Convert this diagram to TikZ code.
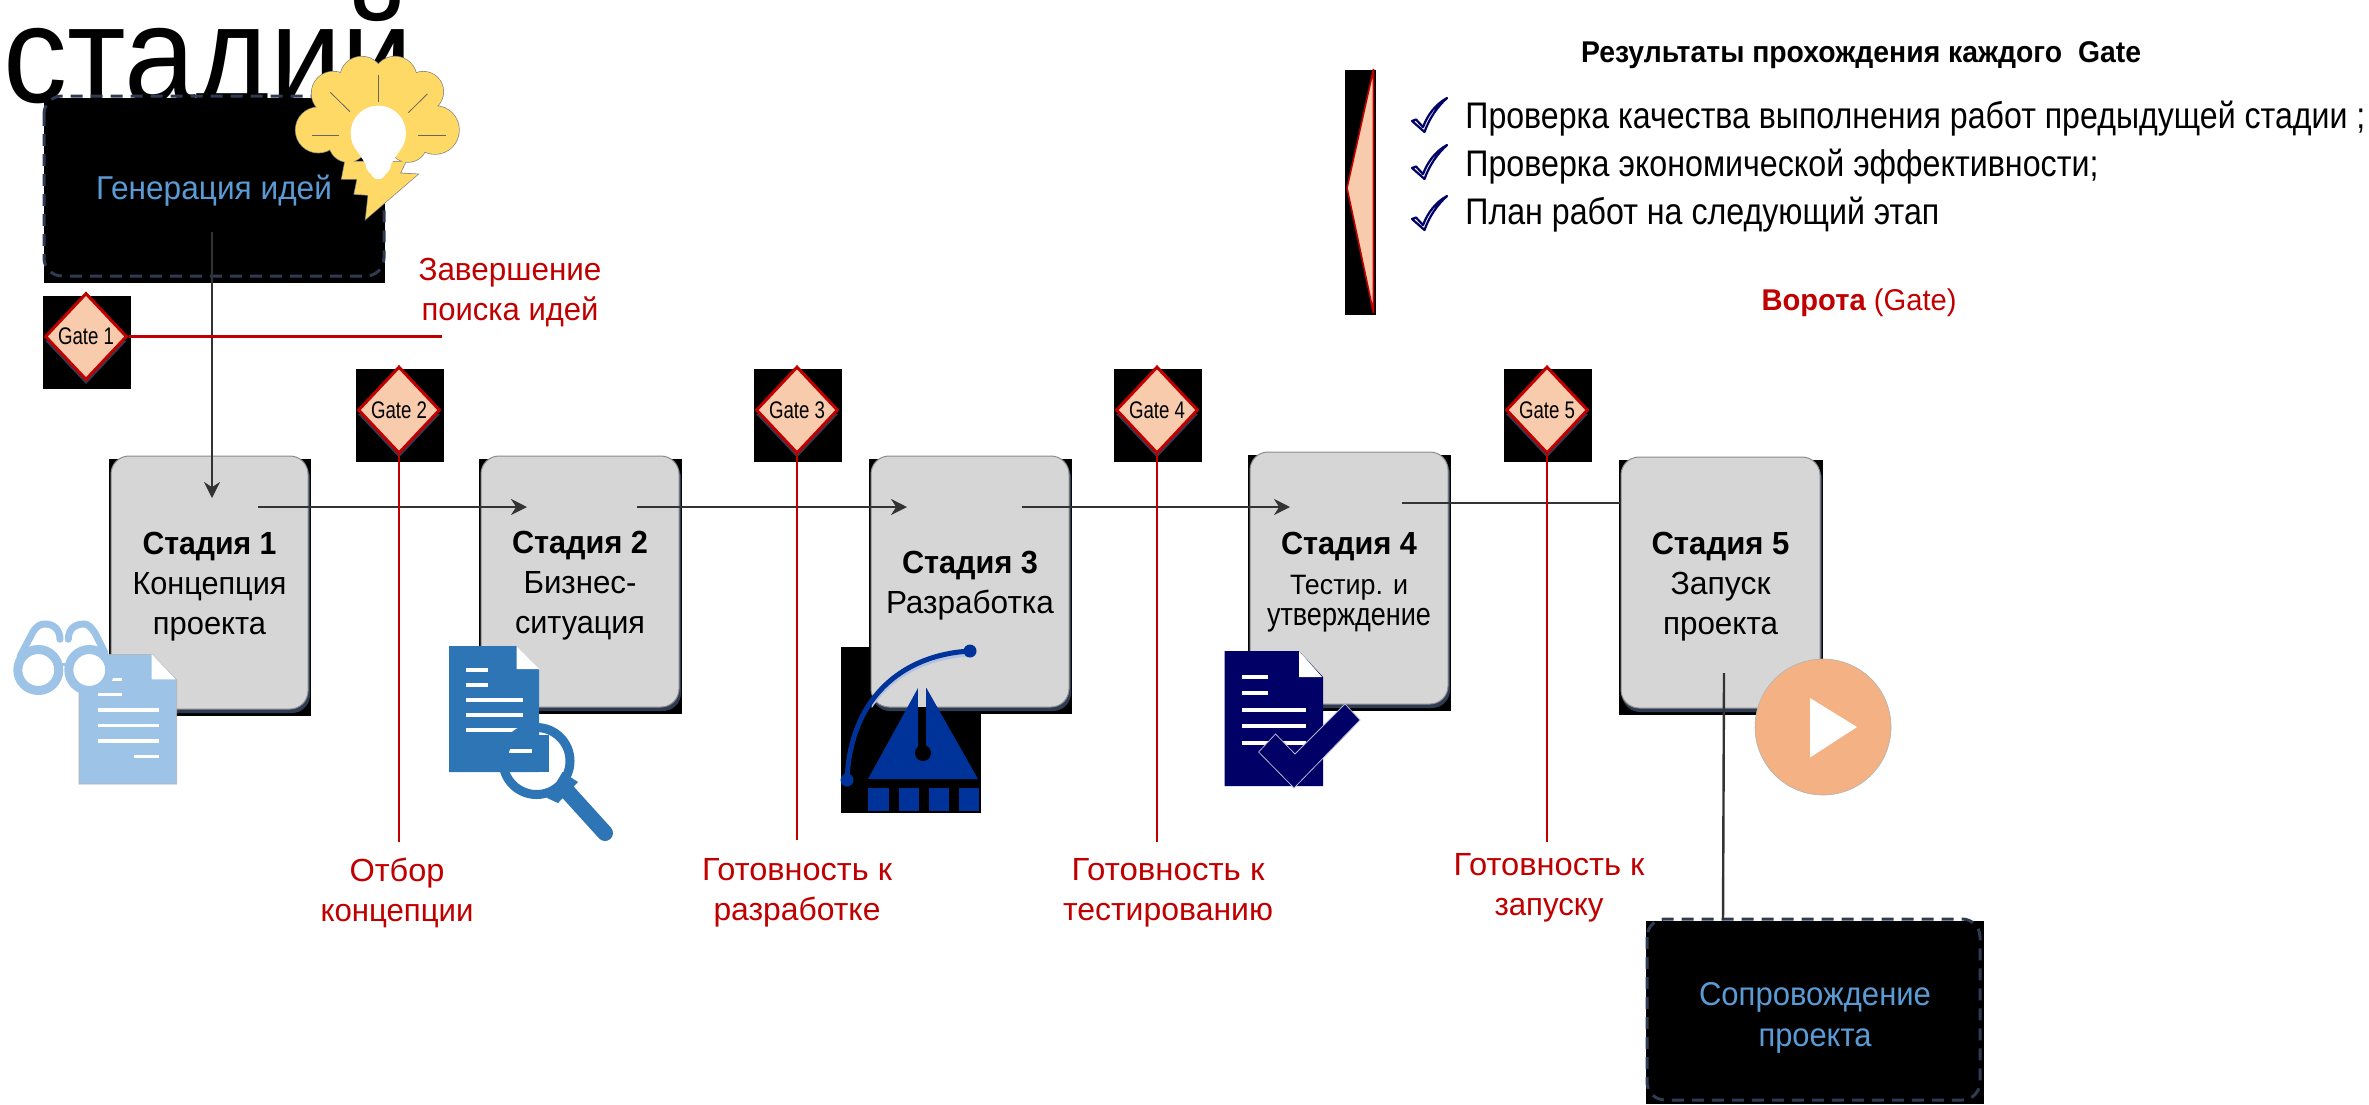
\documentclass[tikz,border=0pt]{standalone}
\usepackage{graphicx}
\usepackage{fontspec}
\setmainfont{Liberation Sans}
\usetikzlibrary{arrows.meta,shapes.geometric}
\definecolor{redc}{HTML}{C00000}
\definecolor{peach}{HTML}{F8CBAD}
\definecolor{stagec}{HTML}{D6D6D6}
\definecolor{shadowc}{HTML}{2F3B52}
\definecolor{linec}{HTML}{333333}
\definecolor{bluet}{HTML}{5B9BD5}
\definecolor{bulbc}{HTML}{FFD966}
\definecolor{lightb}{HTML}{9DC3E6}
\definecolor{midb}{HTML}{2E75B6}
\definecolor{compb}{HTML}{003399}
\definecolor{navy}{HTML}{000066}
\definecolor{playc}{HTML}{F4B183}
\newsavebox\fwbox
\newlength\fwlen
% set a text to an exact width (in reference pixels), keeping its height
\newcommand\fw[2]{\sbox\fwbox{#2}\setlength\fwlen{\wd\fwbox}\pgfmathsetmacro\fwr{#1*0.5/\fwlen}\scalebox{\fwr}[1]{\usebox\fwbox}}
\newcommand\st{\rule{0pt}{15.5pt}}
\tikzset{
  stagebox/.style={draw=gray!90,line width=0.5pt,fill=stagec,rounded corners=9pt,inner sep=0pt,align=center,text=black,font=\fontsize{16}{20}\selectfont},
  gatebox/.style={diamond,draw=redc,line width=1.5pt,fill=peach,minimum width=41pt,minimum height=43.5pt,inner sep=0pt,font=\fontsize{12}{14}\selectfont,text=black},
  redlabel/.style={text=redc,align=center,inner sep=0pt,font=\fontsize{16}{20}\selectfont},
  redline/.style={draw=redc,line width=1.2pt},
  flow/.style={draw=linec,line width=1.2pt},
  flowarrow/.style={flow,-{Stealth[length=8pt,width=8pt]}},
  blackbox/.style={fill=black,inner sep=0pt,align=center,text=bluet,font=\fontsize{16.5}{20.5}\selectfont},
  dashedframe/.style={draw=shadowc,line width=1.5pt,dash pattern=on 6pt off 4pt,rounded corners=9pt},
  itemtext/.style={anchor=base west,inner sep=0pt,text=black,font=\fontsize{18.5}{22}\selectfont},
  docline/.style={draw=white,line width=1.6pt},
  chk/.pic={\draw[navy,fill=white,line width=1.1pt,line join=round] (0,24)--(4,22.5)--(11,30) .. controls (16,17) and (24,7) .. (35,1) .. controls (25,10) and (17,22) .. (12.5,35) -- cycle;}
}
\newcommand\stage[6]{%
  \fill[black] ({#2-#4/2-2},{#3-#5/2+3}) rectangle ({#2+#4/2+3},{#3+#5/2+7});
  \fill[shadowc,rounded corners=9pt] ({#2-#4/2+1},{#3-#5/2+4}) rectangle ({#2+#4/2+2},{#3+#5/2+4});
  \node[stagebox,minimum width=#4*0.5pt,minimum height=#5*0.5pt] (#1) at (#2,#3) {#6};}
\newcommand\gate[5]{%
  \fill[black] ({#2-43},{#3-41}) rectangle ({#2+45},{#3+52});
  \fill[shadowc] ({#2-41},{#3+4}) -- (#2,{#3+47.5}) -- ({#2+41},{#3+4}) -- cycle;
  \node[gatebox] (#1) at (#2,#3) {\fw{56}{#4}};}
\newcommand\bulbshape{%
  (345,161.7) -- (341.7,179) -- (357.3,179) -- (354.3,194) -- (368.3,195) -- (365.7,219) -- (417.7,174.3) -- (400,173.3) -- (405.7,161.7) -- cycle
  (361.7,78.3) circle[radius=21.7] (395,78.3) circle[radius=21.7]
  (333.3,93.3) circle[radius=21.7] (423.3,91.7) circle[radius=20]
  (318.3,130) circle[radius=22.7] (435,130) circle[radius=24]
  (348,143) circle[radius=19] (408,143) circle[radius=19]
  (378,115) circle[radius=45]}
\begin{document}
\begin{tikzpicture}[x=0.5pt,y=-0.5pt]
\useasboundingbox (0,0) rectangle (2369,1104);
\clip (0,0) rectangle (2369,1104);
% title fragment
\node[anchor=base west,inner sep=0pt,text=black,font=\fontsize{69}{69}\selectfont] (title) at (3,102) {\fw{410}{стадий}};

% idea generation box
\node[blackbox,minimum width=170.5pt,minimum height=92.5pt] (gen) at (214,190.5) {\fw{236}{Генерация идей}};
\draw[dashedframe] (44,96) rectangle (384,276);

% bulb: outline first, then the fill over it so that only the outer edge stays
\draw[gray,line width=0.7pt] \bulbshape;
\fill[bulbc] \bulbshape;
\fill[white] (378.3,133.3) circle[radius=27.7];
\fill[white] (356.7,150) -- (400,150) -- (391.7,163) -- (365,163) -- cycle;
\fill[white] (378.3,163.3) circle[radius=13];
\fill[white] (378.3,171.7) circle[radius=7.5];
\foreach \ax/\ay/\bx/\by in {378.3/75/378.3/101.7,330.3/92.3/350/111.7,427.3/94/408.3/112.7,312.3/135/339.3/135,418.3/135/445.7/135}
  \draw[gray!80!black,line width=0.4pt] (\ax,\ay) -- (\bx,\by);

% compass backing
\fill[black] (841,647) rectangle (980.5,813);

% stages
\stage{s1}{209.5}{582.5}{197}{253}{\st\fw{134}{\bfseries Стадия 1}\\\fw{154}{Концепция}\\\fw{113}{проекта}}
\stage{s2}{580}{581.5}{198}{251}{\st\fw{136}{\bfseries Стадия 2}\\\fw{113}{Бизнес-}\\\fw{130}{ситуация}}
\stage{s3}{970}{581.5}{198}{251}{\st\fw{136}{\bfseries Стадия 3}\\\fw{168}{Разработка}}
\stage{s4}{1349}{578}{198}{252}{\rule{0pt}{15pt}\fw{136}{\bfseries Стадия 4}\\\fontsize{14}{15.5}\selectfont\fw{118}{Тестир. и}\\[-4.5pt]\fw{164}{утверждение}}
\stage{s5}{1720.5}{582.5}{199}{251}{\st\fw{138}{\bfseries Стадия 5}\\\fw{100}{Запуск}\\\fw{115}{проекта}}

% support box
\node[blackbox,minimum width=169pt,minimum height=91.5pt] (sup) at (1815,1012.5) {\rule{0pt}{16.5pt}\fw{232}{Сопровождение}\\\fw{113}{проекта}};
\draw[dashedframe] (1647,919) rectangle (1980,1100);

% connector end points
\coordinate (genout) at (212,232);
\coordinate (s1in) at (212,498);
\coordinate (s1out) at (258,507);
\coordinate (s2in) at (527,507);
\coordinate (s2out) at (637,507);
\coordinate (s3in) at (907,507);
\coordinate (s3out) at (1021.5,507);
\coordinate (s4in) at (1290,507);
\coordinate (s4out) at (1402,503);
\coordinate (s5out) at (1724,673);
\coordinate (supin) at (1723,920);
\draw[flowarrow] (genout) -- (s1in);
\draw[flowarrow] (s1out) -- (s2in);
\draw[flowarrow] (s2out) -- (s3in);
\draw[flowarrow] (s3out) -- (s4in);
\draw[flow] (s4out) -- (s4out -| s5.west);
\draw[flow] (s5out) -- (supin);

% gates
\gate{g1}{86}{336.5}{Gate 1}{}
\gate{g2}{399}{410}{Gate 2}{}
\gate{g3}{797}{410}{Gate 3}{}
\gate{g4}{1157}{410}{Gate 4}{}
\gate{g5}{1547}{410}{Gate 5}{}
\coordinate (g1end) at (442,336.5);
\coordinate (g2end) at (399,842);
\coordinate (g3end) at (797,840);
\coordinate (g4end) at (1157,842);
\coordinate (g5end) at (1547,842);
\draw[redline] (g1.east) -- (g1end);
\draw[redline] (g2.south) -- (g2end);
\draw[redline] (g3.south) -- (g3end);
\draw[redline] (g4.south) -- (g4end);
\draw[redline] (g5.south) -- (g5end);

% red labels
\node[redlabel] (l1) at (510,293) {\fw{183}{Завершение}\\\fw{177}{поиска идей}};
\node[redlabel] (l2) at (397,893) {\fw{95}{Отбор}\\\fw{153}{концепции}};
\node[redlabel] (l3) at (797,893) {\fw{190}{Готовность к}\\\fw{167}{разработке}};
\node[redlabel] (l4) at (1168,893) {\fw{193}{Готовность к}\\\fw{210}{тестированию}};
\node[redlabel] (l5) at (1549,888) {\fw{191}{Готовность к}\\\fw{109}{запуску}};

% light document and glasses
\fill[lightb,draw=gray!60,line width=0.3pt] (79,654.3) -- (151.7,654.3) -- (176.7,680) -- (176.7,784) -- (79,784) -- cycle;
\fill[white] (151.7,654.3) -- (175.7,679.3) -- (151.7,679.3) -- cycle;
\foreach \yy/\xa/\xb in {679.3/111.7/121.7,694.7/97.7/121.7,710/97.7/158.7,725.3/97.7/158.7,741/97.7/158.7,756.3/134/158.7}
  \draw[docline] (\xa,\yy) -- (\xb,\yy);
\draw[lightb,line width=3.5pt,line cap=round] (20,656.7) -- (33,631.7) .. controls (37,626) and (40,624) .. (45,624) .. controls (54,624) and (60,630) .. (60,639.3);
\draw[lightb,line width=3.5pt,line cap=round] (105,653) -- (95,633) .. controls (91,627) and (88,624) .. (84,624) .. controls (74,624) and (68.3,630) .. (68.3,639.3);
\draw[lightb,line width=1.5pt] (55,664) -- (72,664);
\draw[lightb,fill=white,line width=4.5pt] (38.3,670) circle[radius=20.5];
\draw[lightb,fill=white,line width=4.5pt] (89.3,670) circle[radius=20.5];

% blue document and magnifier
\fill[midb] (449,646) -- (516.5,646) -- (539,670) -- (539,772) -- (449,772) -- cycle;
\fill[white] (516.5,646) -- (539,669) -- (516.5,669) -- cycle;
\fill[midb] (539,735) rectangle (549,772);
\foreach \yy/\xa/\xb in {670/466/488,685/466/488,700/466/523,715/466/523,730/466/523,751/509/532}
  \draw[docline] (\xa,\yy) -- (\xb,\yy);
\draw[midb,line width=4.5pt] (536.5,761) circle[radius=33.5];
\fill[midb] (562.5,772) -- (578,782) -- (558,803) -- (547,798) -- cycle;
\draw[midb,line width=8pt,line cap=round] (566,790) -- (605,833);

% compass
\begin{scope}
\clip (871.5,456) rectangle (1069,707);
\draw[compb!30!white,line width=2.5pt] (847,783) .. controls (850,703) and (900,658) .. (970,654);
\end{scope}
\fill[compb] (918,688) -- (926.4,688) -- (978,779) -- (868,779) -- cycle;
\fill[black] (918,707) rectangle (926.4,753);
\fill[black] (923,753) circle[radius=8];
\fill[stagec] (918,686) rectangle (926.4,707);
\foreach \xa/\xb in {868.4/888.5,898.8/918.8,929/949,959/979}
  \fill[compb] (\xa,788) rectangle (\xb,811);
\draw[compb,line width=2.5pt] (847,780) .. controls (850,700) and (900,655) .. (970,651);
\fill[compb] (847,780) circle[radius=6.5];
\fill[compb] (970,651) circle[radius=6.5];

% navy document and check
\fill[navy] (1224.6,651) -- (1299,651) -- (1323,677) -- (1323,786) -- (1224.6,786) -- cycle;
\fill[white] (1299,651) -- (1322,677) -- (1299,677) -- cycle;
\foreach \yy/\xb in {677/1267.5,693/1267.5,710/1305.5,726/1305.5,743/1305.5}
  \draw[docline] (1242,\yy) -- (\xb,\yy);
\fill[navy,draw=white!70!navy,line width=0.4pt] (1345,704) -- (1360,720) -- (1294,788) -- (1258.6,752) -- (1275.5,734) -- (1295,754) -- cycle;

% play
\fill[playc,draw=gray!60,line width=0.3pt] (1823,727) circle[radius=68];
\fill[white] (1810,698) -- (1857,727) -- (1810,757.5) -- cycle;

% legend
\fill[black] (1345,70) rectangle (1375.5,315);
\fill[peach,draw=redc,line width=0.8pt,line join=bevel] (1373.5,69) -- (1347,188) -- (1373.5,313) -- cycle;
\node[inner sep=0pt,text=black,font=\fontsize{15}{18}\selectfont] (head) at (1861,55) {\fw{560}{\bfseries Результаты прохождения каждого~ Gate}};
\pic at (1412,97) {chk};
\pic at (1412,144) {chk};
\pic at (1412,195) {chk};
\node[itemtext] (i1) at (1465,128.5) {\fw{900}{Проверка качества выполнения работ предыдущей стадии ;}};
\node[itemtext] (i2) at (1465,176.5) {\fw{633}{Проверка экономической эффективности;}};
\node[itemtext] (i3) at (1465,224.5) {\fw{474}{План работ на следующий этап}};
\node[inner sep=0pt,text=redc,font=\fontsize{15}{18}\selectfont] (gatecap) at (1859,303) {\fw{195}{\textbf{Ворота} (Gate)}};
\end{tikzpicture}
\end{document}
